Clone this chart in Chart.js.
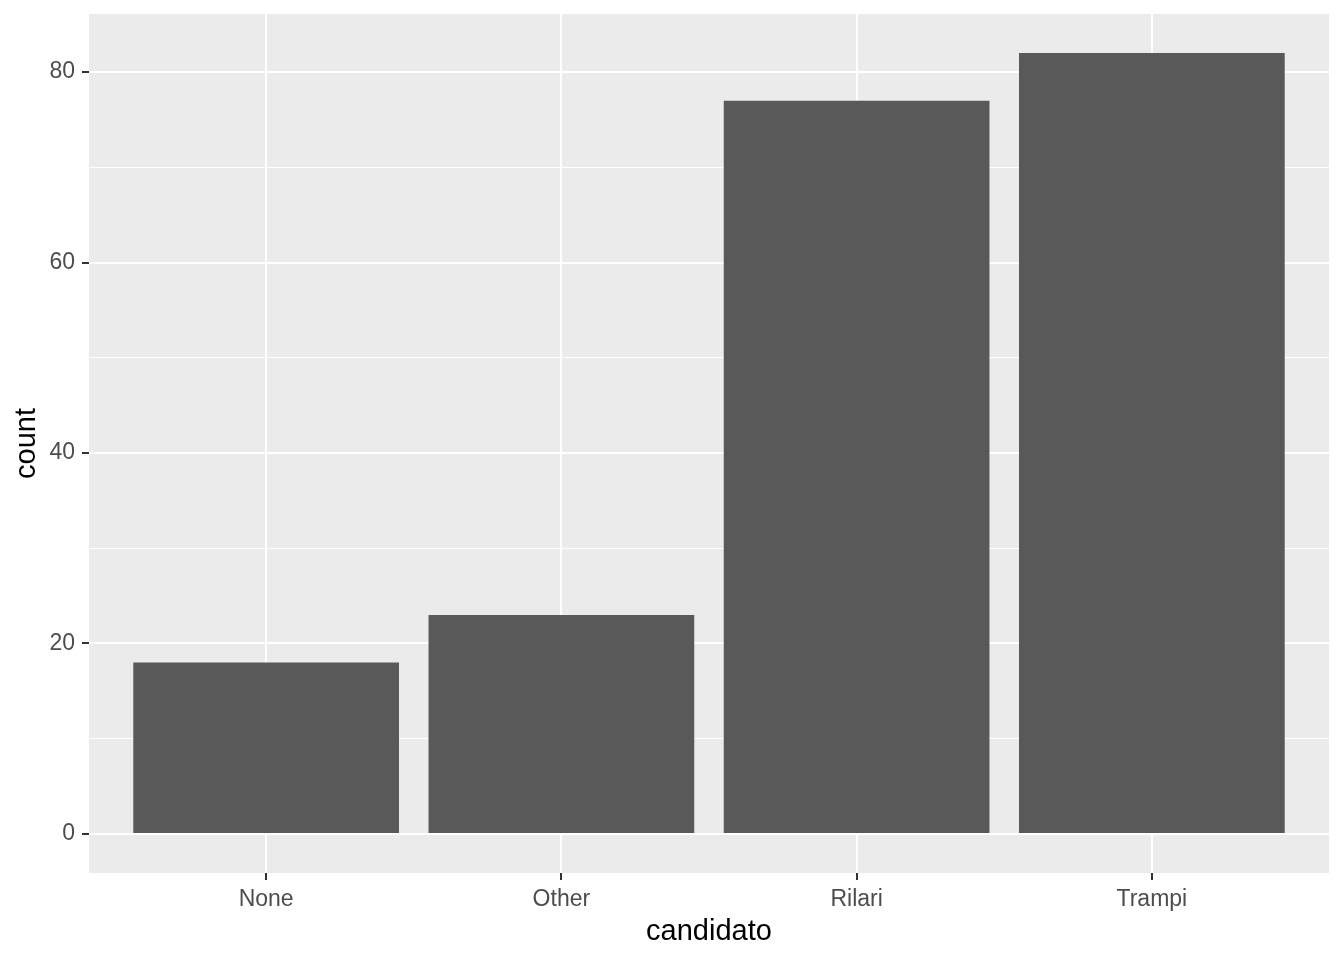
<!DOCTYPE html>
<html>
<head>
<meta charset="utf-8">
<script src="https://cdn.jsdelivr.net/npm/chart.js@4/dist/chart.umd.min.js"></script>
<style>
  html, body { margin: 0; padding: 0; background: #ffffff; }
  #wrap { width: 1344px; height: 960px; position: relative; }
</style>
</head>
<body>
<div id="wrap"><canvas id="c"></canvas></div>
<script>
const categories = ['None', 'Other', 'Rilari', 'Trampi'];
const counts = [18, 23, 77, 82];
const yTickValues = [0, 10, 20, 30, 40, 50, 60, 70, 80];
const yLabeledTicks = [0, 20, 40, 60, 80];
const xTitle = 'candidato';
const yTitle = 'count';

const FONT = "'Liberation Sans', Arial, sans-serif";
const positions = categories.map((_, i) => i + 1);
const maxVal = Math.max(...counts);
const yMin = -0.05 * maxVal, yMax = maxVal * 1.05;

const panelBg = {
  id: 'panelBg',
  beforeDraw(chart) {
    const { ctx, chartArea: a } = chart;
    ctx.save();
    ctx.fillStyle = '#EBEBEB';
    ctx.fillRect(a.left, a.top, a.right - a.left, a.bottom - a.top);
    ctx.restore();
  }
};

const isMajorY = v => yLabeledTicks.includes(v);

new Chart(document.getElementById('c'), {
  type: 'bar',
  data: {
    datasets: [{
      data: positions.map((p, i) => ({ x: p, y: counts[i] })),
      backgroundColor: '#595959',
      borderWidth: 0,
      barPercentage: 0.9,
      categoryPercentage: 1.0
    }]
  },
  options: {
    responsive: true,
    maintainAspectRatio: false,
    animation: false,
    layout: { padding: { top: 14, right: 15, left: 0, bottom: 0 } },
    plugins: { legend: { display: false }, tooltip: { enabled: false } },
    scales: {
      x: {
        type: 'linear',
        min: 0.4,
        max: 4.6,
        offset: false,
        afterBuildTicks(scale) { scale.ticks = positions.map(v => ({ value: v })); },
        afterFit(scale) { scale.height = 87; scale.paddingLeft = 0; scale.paddingRight = 0; },
        border: { display: false },
        grid: {
          offset: false,
          color: '#FFFFFF',
          lineWidth: 2,
          drawTicks: true,
          tickLength: 7,
          tickColor: '#333333',
          tickWidth: 2
        },
        ticks: {
          autoSkip: false,
          maxRotation: 0,
          padding: 6,
          color: '#4D4D4D',
          font: { family: FONT, size: 23 },
          callback: v => categories[Math.round(v) - 1] ?? ''
        },
        title: {
          display: true,
          text: xTitle,
          color: '#000000',
          font: { family: FONT, size: 29 },
          padding: { top: 0, bottom: 10.6 }
        }
      },
      y: {
        type: 'linear',
        min: yMin,
        max: yMax,
        afterBuildTicks(scale) { scale.ticks = yTickValues.map(v => ({ value: v })); },
        afterFit(scale) { scale.width = 89; scale.paddingTop = 0; scale.paddingBottom = 0; },
        border: { display: false },
        grid: {
          color: '#FFFFFF',
          lineWidth: ctx => isMajorY(ctx.tick && ctx.tick.value) ? 2 : 1,
          drawTicks: true,
          tickLength: 7,
          tickColor: ctx => isMajorY(ctx.tick && ctx.tick.value) ? '#333333' : 'rgba(0,0,0,0)',
          tickWidth: 2
        },
        ticks: {
          autoSkip: false,
          padding: 7,
          color: '#4D4D4D',
          font: { family: FONT, size: 23 },
          callback: v => isMajorY(v) ? String(v) : ''
        },
        title: {
          display: true,
          text: yTitle,
          color: '#000000',
          font: { family: FONT, size: 29 },
          padding: { top: 9.6, bottom: 0 }
        }
      }
    }
  },
  plugins: [panelBg]
});
</script>
</body>
</html>
